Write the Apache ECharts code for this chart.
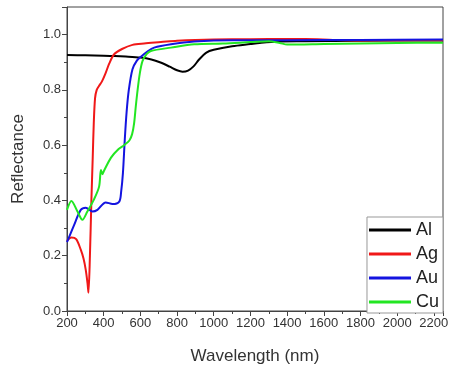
<!DOCTYPE html>
<html><head><meta charset="utf-8">
<script src="https://cdn.jsdelivr.net/npm/echarts@6/dist/echarts.min.js"></script>
<style>html,body{margin:0;padding:0;background:#fff}#c{width:454px;height:370px}</style>
</head><body><div id="c"></div>
<script>
var seriesNames = ['Al', 'Ag', 'Au', 'Cu'];
var xTickLabels = [200, 400, 600, 800, 1000, 1200, 1400, 1600, 1800, 2000, 2200];
var yTickLabels = ['0.0', '0.2', '0.4', '0.6', '0.8', '1.0'];

var alX = [200, 300, 400, 460, 520, 600, 660, 710, 760, 800, 830, 860, 890, 920, 960, 1000, 1100, 1200, 1250, 1350, 1500, 1800, 2250];
var alY = [0.926, 0.925, 0.924, 0.923, 0.921, 0.917, 0.910, 0.899, 0.884, 0.871, 0.866, 0.870, 0.885, 0.910, 0.935, 0.945, 0.958, 0.966, 0.970, 0.975, 0.976, 0.978, 0.979];

var agX = [200, 224, 250, 275, 290, 302, 312, 317, 325, 333, 340, 346, 353, 362, 375, 390, 410, 430, 457, 500, 557, 620, 712, 800, 900, 1100, 1300, 1500, 1650, 1800, 2000, 2250];
var agY = [0.254, 0.266, 0.260, 0.222, 0.190, 0.150, 0.100, 0.066, 0.200, 0.400, 0.550, 0.680, 0.770, 0.800, 0.815, 0.830, 0.860, 0.895, 0.929, 0.948, 0.963, 0.968, 0.973, 0.978, 0.981, 0.983, 0.984, 0.984, 0.981, 0.979, 0.980, 0.980];

var auX = [200, 238, 275, 302, 339, 366, 411, 448, 485, 495, 505, 515, 525, 537, 557, 580, 603, 640, 675, 767, 893, 1100, 1400, 1800, 2250];
var auY = [0.249, 0.310, 0.366, 0.374, 0.360, 0.366, 0.393, 0.387, 0.396, 0.430, 0.500, 0.620, 0.720, 0.800, 0.875, 0.905, 0.920, 0.940, 0.953, 0.965, 0.975, 0.980, 0.980, 0.981, 0.982];

var cuX = [200, 224, 257, 284, 311, 348, 375, 385, 393, 400, 440, 480, 511, 540, 555, 566, 575, 585, 597, 612, 635, 657, 767, 894, 1050, 1200, 1300, 1360, 1400, 1600, 1800, 2000, 2250];
var cuY = [0.366, 0.398, 0.360, 0.330, 0.360, 0.405, 0.450, 0.510, 0.495, 0.505, 0.555, 0.585, 0.600, 0.617, 0.640, 0.680, 0.740, 0.800, 0.860, 0.905, 0.930, 0.941, 0.953, 0.965, 0.968, 0.973, 0.976, 0.970, 0.964, 0.966, 0.968, 0.970, 0.971];

var colors = ['#000000', '#f01818', '#1414e0', '#22e622'];
var xs = [alX, agX, auX, cuX];
var ys = [alY, agY, auY, cuY];

function pairs(x, y) { return x.map(function (v, i) { return [v, y[i]]; }); }

var font = 'Liberation Sans, Arial, sans-serif';
var chart = echarts.init(document.getElementById('c'), null, {renderer: 'canvas'});
chart.setOption({
  animation: false,
  backgroundColor: '#fff',
  grid: {left: 67, right: 11, top: 7, bottom: 57, show: true, borderColor: '#444', borderWidth: 1},
  xAxis: {
    type: 'value', min: 200, max: 2250, interval: 200,
    name: 'Wavelength (nm)', nameLocation: 'middle', nameGap: 37,
    nameTextStyle: {fontFamily: font, fontSize: 17, color: '#333'},
    axisLine: {show: true, lineStyle: {color: '#444', width: 1}},
    axisTick: {show: true, length: 5, lineStyle: {color: '#444'}},
    minorTick: {show: true, splitNumber: 2, length: 3, lineStyle: {color: '#444'}},
    splitLine: {show: false},
    axisLabel: {fontFamily: font, fontSize: 13, color: '#333', margin: 6,
      formatter: function (v) { return xTickLabels.indexOf(v) >= 0 ? String(v) : ''; }}
  },
  yAxis: {
    type: 'value', min: 0, max: 1.1, interval: 0.2,
    name: 'Reflectance', nameLocation: 'middle', nameGap: 40,
    nameTextStyle: {fontFamily: font, fontSize: 17, color: '#333'},
    axisLine: {show: true, lineStyle: {color: '#444', width: 1}},
    axisTick: {show: true, length: 5, lineStyle: {color: '#444'}},
    minorTick: {show: true, splitNumber: 2, length: 3, lineStyle: {color: '#444'}},
    splitLine: {show: false},
    axisLabel: {fontFamily: font, fontSize: 13, color: '#333', margin: 6,
      formatter: function (v) { var s = v.toFixed(1); return yTickLabels.indexOf(s) >= 0 && v < 1.05 ? s : ''; }}
  },
  legend: {
    data: seriesNames, orient: 'vertical', right: 11, bottom: 57,
    backgroundColor: '#fff', borderColor: '#999', borderWidth: 1,
    padding: [4, 4, 2, 2], itemWidth: 42, itemHeight: 3, itemGap: 6, icon: 'rect',
    textStyle: {fontFamily: font, fontSize: 18, color: '#222', padding: [0, 0, 0, 0]}
  },
  series: seriesNames.map(function (n, i) {
    return {
      name: n, type: 'line', data: pairs(xs[i], ys[i]), showSymbol: false, symbol: 'none',
      smooth: 0.3, lineStyle: {color: colors[i], width: 2}, itemStyle: {color: colors[i]}
    };
  })
});
</script></body></html>
